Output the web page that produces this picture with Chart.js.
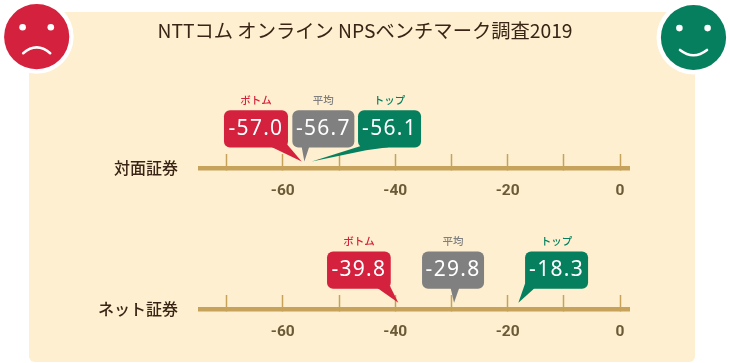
<!DOCTYPE html>
<html><head><meta charset="utf-8">
<style>html,body{margin:0;padding:0;background:#fff}#w{position:relative;width:730px;height:363px}</style>
<script src="https://cdn.jsdelivr.net/npm/chart.js@4"></script>
</head><body><div id="w"><canvas id="c" width="730" height="363"></canvas></div>
<script>
const titleText = 'NTTコム オンライン NPSベンチマーク調査2019';
const rowNames = ['対面証券', 'ネット証券'];
const seriesNames = ['ボトム', '平均', 'トップ'];
const seriesColors = ['#D4213D', '#808080', '#057F5E'];
const faceRow = [-57.0, -56.7, -56.1];
const netRow = [-39.8, -29.8, -18.3];
const tickValues = [-70, -60, -50, -40, -30, -20, -10, 0];
const tickLabels = ['', '-60', '', '-40', '', '-20', '', '0'];

const AXIS_MIN = -74.69, AXIS_MAX = 1.73;
const ROW0 = 167.8, ROW_STEP = 141.2;

// callout layout, relative to each value's pixel: box offset, tip offset, wedge shape
const calloutLayout = [
  [ {box:-75.7,w:64,tip:2,wedge:[[48,37],[63,34]]},
    {box:-9,w:62,tip:3,wedge:[[9.4,37],[16.7,37]]},
    {box:53.3,w:63,tip:7,wedge:[[2,36],[8,40],[30,37]]} ],
  [ {box:-69.3,w:63.7,tip:2,wedge:[[51,37],[63,34.7]]},
    {box:-30.5,w:62,tip:1.5,wedge:[[28.7,37],[37,37]]},
    {box:7.9,w:63,tip:1.2,wedge:[[0,32],[8,38]]} ]
];

function face(ctx, cx, cy, color, happy){
  ctx.fillStyle='#fff'; ctx.beginPath(); ctx.arc(cx,cy,37,0,Math.PI*2); ctx.fill();
  ctx.fillStyle=color; ctx.beginPath(); ctx.arc(cx,cy,32.6,0,Math.PI*2); ctx.fill();
  ctx.fillStyle='#fff';
  for(const d of [-14.1,14.1]){ ctx.beginPath(); ctx.arc(cx+d,cy-9.4,3.3,0,Math.PI*2); ctx.fill(); }
  ctx.strokeStyle='#fff'; ctx.lineWidth=2.6; ctx.lineCap='round'; ctx.beginPath();
  if(happy){ ctx.moveTo(cx-13.5,cy+12.5); ctx.quadraticCurveTo(cx,cy+23,cx+13.5,cy+12.5); }
  else { ctx.moveTo(cx-13.5,cy+16.5); ctx.quadraticCurveTo(cx,cy+5,cx+13.5,cy+16.5); }
  ctx.stroke(); ctx.lineCap='butt';
}

const decor = {
  id:'decor',
  beforeDraw(chart){
    const ctx=chart.ctx; ctx.save();
    ctx.fillStyle='#FDEFCF';
    ctx.beginPath(); ctx.roundRect(29,12,666,350,[0,0,6,6]); ctx.fill();
    face(ctx,36.7,36.7,seriesColors[0],false);
    face(ctx,693.5,37.5,seriesColors[2],true);
    ctx.restore();
  },
  afterDatasetsDraw(chart){
    const ctx=chart.ctx; ctx.save();
    chart.data.datasets.forEach((ds,r)=>{
      const sx=chart.scales[ds.xAxisID], rowY=chart.scales.y.getPixelForValue(r);
      ds.data.forEach((pt,i)=>{
        const L=calloutLayout[r][i], px=sx.getPixelForValue(pt.x);
        const left=px+L.box, top=rowY-57.5, h=37.2, tipX=px+L.tip, tipY=rowY-6.3;
        ctx.fillStyle=seriesColors[i];
        ctx.beginPath(); ctx.roundRect(left,top,L.w,h,6); ctx.fill();
        ctx.beginPath();
        const wd=L.wedge;
        ctx.moveTo(left+wd[0][0],top+wd[0][1]);
        ctx.lineTo(tipX,tipY);
        if(wd.length===3){ ctx.lineTo(left+wd[1][0],top+wd[1][1]); ctx.lineTo(left+wd[2][0],top+wd[2][1]); }
        else { ctx.lineTo(left+wd[1][0],top+wd[1][1]); }
        ctx.lineTo(left+L.w/2,top+10);
        ctx.closePath(); ctx.fill();
        ctx.textAlign='center'; ctx.textBaseline='middle';
        ctx.fillStyle='#fff';
        ctx.font='400 21px "Noto Sans"';
        ctx.letterSpacing='1.3px';
        ctx.fillText(pt.x.toFixed(1),left+L.w/2,top+18.5);
        ctx.letterSpacing='0px';
        ctx.fillStyle=seriesColors[i];
        ctx.font='500 10.5px "Noto Sans CJK JP"';
        ctx.fillText(seriesNames[i],left+L.w/2,top-10);
      });
    });
    ctx.restore();
  }
};

function xAxis(rowIndex){
  return {
    type:'linear', position:{y:rowIndex}, min:AXIS_MIN, max:AXIS_MAX,
    afterBuildTicks(s){ s.ticks=tickValues.map(v=>({value:v})); },
    border:{display:true,color:'#C6A25A',width:4.5},
    grid:{drawOnChartArea:false,drawTicks:true,tickLength:-16.5,tickWidth:1.5,tickColor:'#C6A25A'},
    ticks:{
      autoSkip:false,maxRotation:0,padding:30.5,color:'#6B5A35',
      font:{family:'Roboto',size:15.5,weight:'bold'},
      callback(v){ const k=tickValues.indexOf(v); return k<0?'':tickLabels[k]; }
    }
  };
}

const chart = new Chart(document.getElementById('c'),{
  type:'scatter',
  data:{datasets:[
    {label:rowNames[0],xAxisID:'x',yAxisID:'y',pointRadius:0,data:faceRow.map(v=>({x:v,y:0}))},
    {label:rowNames[1],xAxisID:'x2',yAxisID:'y',pointRadius:0,data:netRow.map(v=>({x:v,y:1}))}
  ]},
  options:{
    responsive:false,animation:false,devicePixelRatio:1,
    plugins:{
      legend:{display:false},tooltip:{enabled:false},
      title:{display:true,text:titleText,color:'#3A2415',
        font:{family:'"Noto Sans CJK JP"',size:19.3,weight:'normal',lineHeight:1},
        padding:{top:21.5,bottom:0}}
    },
    scales:{
      x:xAxis(0),
      x2:xAxis(1),
      y:{
        type:'linear',reverse:true,min:-1,max:2,
        afterBuildTicks(s){ s.ticks=rowNames.map((_,i)=>({value:i})); },
        afterFit(s){ s.width=200.25; },
        border:{display:false},
        grid:{display:false,drawTicks:false},
        ticks:{padding:22.25,color:'#3A2415',
          font:{family:'"Noto Sans CJK JP"',size:16,weight:'500'},
          callback(v){ return rowNames[v]; }}
      },
      gutter:{
        type:'linear',position:'right',min:0,max:1,
        afterBuildTicks(s){ s.ticks=[]; },
        afterFit(s){ s.width=100.25; },
        border:{display:false},
        grid:{display:false,drawTicks:false},
        ticks:{display:false}
      }
    }
  },
  plugins:[decor]
});
// pin the two rows to their pixel spacing once the chart area is known
const area = chart.chartArea;
const yOpts = chart.options.scales.y;
yOpts.min = -(ROW0-area.top)/ROW_STEP;
yOpts.max = yOpts.min + (area.bottom-area.top)/ROW_STEP;
chart.update();
</script></body></html>
